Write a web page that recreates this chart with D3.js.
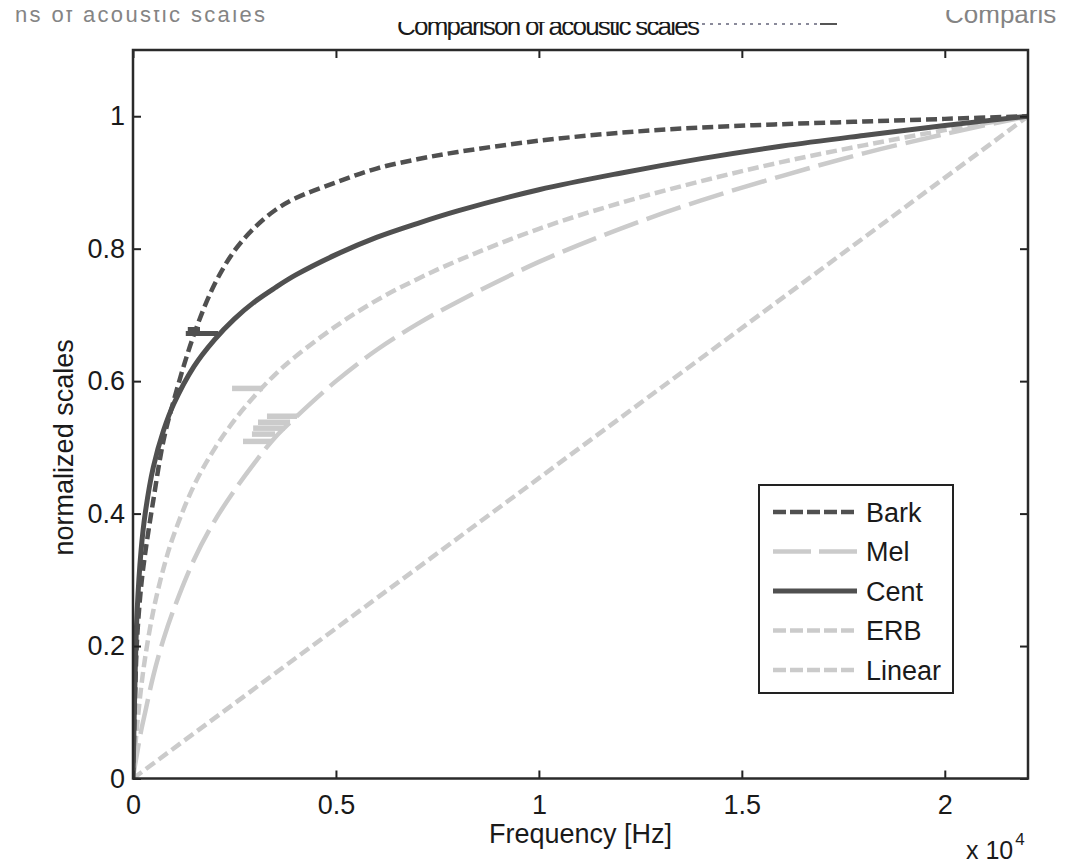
<!DOCTYPE html>
<html>
<head>
<meta charset="utf-8">
<script src="https://cdn.jsdelivr.net/npm/d3@7"></script>
<style>
  body { margin: 0; background: #fff; }
  svg text { font-family: "Liberation Sans", Arial, Helvetica, sans-serif; fill: #1a1a1a; }
</style>
</head>
<body>
<div id="chart"></div>
<script>
// frequency grid (Hz) and values
var freqs = [0, 50, 100, 200, 300, 500, 750, 1000, 1500, 2000, 2500, 3000, 3500, 4000, 5000, 6000, 7000, 8000, 10000, 12000, 14000, 16000, 18000, 20000, 22050];
var bark = [0, 0.12, 0.21, 0.29, 0.34, 0.42, 0.51, 0.57, 0.67, 0.745, 0.797, 0.832, 0.858, 0.876, 0.90, 0.921, 0.935, 0.946, 0.963, 0.975, 0.983, 0.988, 0.992, 0.996, 1];
var mel = [0, 0.02, 0.038, 0.072, 0.10, 0.155, 0.21, 0.255, 0.33, 0.388, 0.435, 0.477, 0.515, 0.545, 0.60, 0.647, 0.686, 0.72, 0.78, 0.83, 0.873, 0.91, 0.944, 0.973, 1];
var cent = [0, 0.15, 0.25, 0.345, 0.40, 0.47, 0.525, 0.565, 0.622, 0.662, 0.694, 0.72, 0.741, 0.76, 0.791, 0.817, 0.838, 0.857, 0.889, 0.914, 0.936, 0.955, 0.971, 0.986, 1];
var erb = [0, 0.043, 0.079, 0.137, 0.183, 0.253, 0.317, 0.367, 0.442, 0.497, 0.541, 0.578, 0.61, 0.637, 0.683, 0.722, 0.754, 0.782, 0.83, 0.869, 0.902, 0.931, 0.956, 0.979, 1];
var linearF = [0, 22050];
var linear = [0, 1];

var seriesNames = ['Bark', 'Mel', 'Cent', 'ERB', 'Linear'];
var xTicks = [0, 5000, 10000, 15000, 20000];
var yTicks = [0, 0.2, 0.4, 0.6, 0.8, 1];

// stray strokes left in the figure (Hz from, Hz to, value)
var lightStrokes = [[2440, 3200, 0.589], [3300, 4040, 0.547], [3080, 3870, 0.538], [2960, 3740, 0.529], [2930, 3500, 0.520], [2710, 3420, 0.509]];
var darkStrokes = [[1300, 2100, 0.672], [1350, 1650, 0.678]];

var dark = '#505050', light = '#cbcbcb';
var styles = {
    Bark: { color: dark, dash: '11,5', width: 4.5 },
    Mel: { color: light, dash: '36,9', width: 4.5 },
    Cent: { color: dark, dash: null, width: 5 },
    ERB: { color: light, dash: '11,5', width: 4.5 },
    Linear: { color: light, dash: '11,5', width: 4.5 }
};

var W = 1076, H = 865;
var fontSize = '27px';
var svg = d3.select('#chart').append('svg').attr('width', W).attr('height', H);

var x = d3.scaleLinear().domain([0, 22050]).range([133, 1028]);
var y = d3.scaleLinear().domain([0, 1.1]).range([778.5, 50]);

// clipped title fragments at the top of the page
var defs = svg.append('defs');
defs.append('clipPath').attr('id', 'topclip').append('rect').attr('x', 0).attr('y', 22).attr('width', W).attr('height', 30);
defs.append('clipPath').attr('id', 'sideclip').append('rect').attr('x', 0).attr('y', 10).attr('width', W).attr('height', 30);
defs.append('clipPath').attr('id', 'plotclip').append('rect')
    .attr('x', x(0)).attr('y', y(1.1)).attr('width', x(22050) - x(0)).attr('height', y(0) - y(1.1));

svg.append('text').attr('clip-path', 'url(#topclip)')
    .attr('x', 397).attr('y', 35).style('font-size', '26px').attr('textLength', 303)
    .text('Comparison of acoustic scales');
svg.append('line').attr('x1', 702).attr('x2', 818).attr('y1', 24).attr('y2', 24)
    .attr('stroke', '#8a8a9a').attr('stroke-width', 2).attr('stroke-dasharray', '3,5');
svg.append('line').attr('x1', 820).attr('x2', 837).attr('y1', 24).attr('y2', 24)
    .attr('stroke', '#555').attr('stroke-width', 2);
svg.append('text').attr('clip-path', 'url(#sideclip)')
    .attr('x', 15).attr('y', 22).style('font-size', '22px').attr('textLength', 250)
    .style('fill', '#666').style('opacity', 0.8)
    .text('ns of acoustic scales');
svg.append('text').attr('clip-path', 'url(#sideclip)')
    .attr('x', 945).attr('y', 23).style('font-size', '26px')
    .style('fill', '#666').style('opacity', 0.8)
    .text('Comparis');

// series
var line = d3.line()
    .x(function (d) { return x(d[0]); })
    .y(function (d) { return y(d[1]); })
    .curve(d3.curveCatmullRom.alpha(0.5));

var seriesData = {
    Bark: d3.zip(freqs, bark),
    Mel: d3.zip(freqs, mel),
    Cent: d3.zip(freqs, cent),
    ERB: d3.zip(freqs, erb),
    Linear: d3.zip(linearF, linear)
};

var plot = svg.append('g').attr('clip-path', 'url(#plotclip)');
var drawOrder = ['Linear', 'Mel', 'ERB', 'Cent', 'Bark'];
drawOrder.forEach(function (name) {
    var st = styles[name];
    plot.append('path')
        .datum(seriesData[name])
        .attr('d', line)
        .attr('fill', 'none')
        .attr('stroke', st.color)
        .attr('stroke-width', st.width)
        .attr('stroke-dasharray', st.dash);
});

plot.selectAll('line.lstroke').data(lightStrokes).enter().append('line')
    .attr('class', 'lstroke')
    .attr('x1', function (d) { return x(d[0]); })
    .attr('x2', function (d) { return x(d[1]); })
    .attr('y1', function (d) { return y(d[2]); })
    .attr('y2', function (d) { return y(d[2]); })
    .attr('stroke', light).attr('stroke-width', 5.5);
plot.selectAll('line.dstroke').data(darkStrokes).enter().append('line')
    .attr('class', 'dstroke')
    .attr('x1', function (d) { return x(d[0]); })
    .attr('x2', function (d) { return x(d[1]); })
    .attr('y1', function (d) { return y(d[2]); })
    .attr('y2', function (d) { return y(d[2]); })
    .attr('stroke', dark).attr('stroke-width', 5);

// axes, ticks pointing inwards on all four sides
function styleAxis(g) {
    g.select('.domain').remove();
    g.selectAll('.tick line').attr('stroke', '#222').attr('stroke-width', 2);
    g.selectAll('.tick text').style('font-size', fontSize).attr('fill', '#1a1a1a');
}

svg.append('g').attr('transform', 'translate(0,' + y(0) + ')')
    .call(d3.axisBottom(x).tickValues(xTicks).tickSizeInner(-8).tickSizeOuter(0).tickPadding(16)
        .tickFormat(function (d) { return d / 1e4; }))
    .call(styleAxis);
svg.append('g').attr('transform', 'translate(0,' + y(1.1) + ')')
    .call(d3.axisTop(x).tickValues(xTicks).tickSizeInner(-8).tickSizeOuter(0).tickFormat(''))
    .call(styleAxis);
svg.append('g').attr('transform', 'translate(' + x(0) + ',0)')
    .call(d3.axisLeft(y).tickValues(yTicks).tickSizeInner(-8).tickSizeOuter(0).tickPadding(8)
        .tickFormat(function (d) { return d3.format('~g')(d); }))
    .call(styleAxis);
svg.append('g').attr('transform', 'translate(' + x(22050) + ',0)')
    .call(d3.axisRight(y).tickValues(yTicks).tickSizeInner(-8).tickSizeOuter(0).tickFormat(''))
    .call(styleAxis);

svg.append('rect')
    .attr('x', x(0)).attr('y', y(1.1))
    .attr('width', x(22050) - x(0)).attr('height', y(0) - y(1.1))
    .attr('fill', 'none').attr('stroke', '#2a2a2a').attr('stroke-width', 2.5);

// axis labels
svg.append('text').attr('x', (x(0) + x(22050)) / 2).attr('y', 843)
    .attr('text-anchor', 'middle').style('font-size', fontSize).text('Frequency [Hz]');
svg.append('text').attr('transform', 'translate(73,' + y(0.5) + ') rotate(-90)')
    .attr('text-anchor', 'middle').style('font-size', fontSize).text('normalized scales');
var mult = svg.append('text').attr('x', 966).attr('y', 859).style('font-size', '25px');
mult.append('tspan').text('x 10');
mult.append('tspan').attr('dy', -14).attr('dx', 2).style('font-size', '17px').text('4');

// legend
var legend = svg.append('g').attr('transform', 'translate(759,485)');
legend.append('rect').attr('width', 194).attr('height', 208)
    .attr('fill', '#fff').attr('stroke', '#222').attr('stroke-width', 2);
var rows = legend.selectAll('g.row').data(seriesNames).enter().append('g')
    .attr('class', 'row')
    .attr('transform', function (d, i) { return 'translate(0,' + (27 + i * 39.5) + ')'; });
rows.append('line')
    .attr('x1', 14).attr('x2', 98)
    .attr('stroke', function (d) { return styles[d].color; })
    .attr('stroke-width', function (d) { return styles[d].width; })
    .attr('stroke-dasharray', function (d) {
        return d === 'Mel' ? '38,8' : (styles[d].dash ? '13,4' : null);
    });
rows.append('text').attr('x', 107).attr('dy', '0.36em').style('font-size', fontSize)
    .text(function (d) { return d; });
</script>
</body>
</html>
